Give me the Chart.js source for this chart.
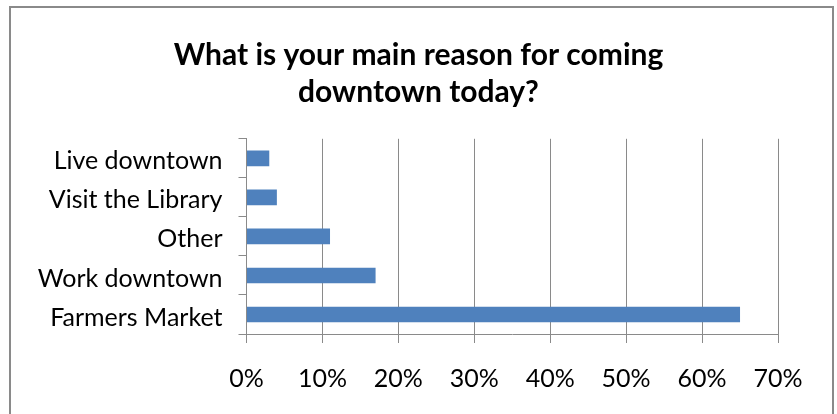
<!DOCTYPE html>
<html lang="en">
<head>
  <meta charset="UTF-8" />
  <title>Main reason for coming downtown</title>
  <script src="https://cdn.jsdelivr.net/npm/chart.js"></script>
  <style>
    html, body { margin: 0; padding: 0; background: #fff; }
    #frame {
      position: absolute; left: 9px; top: 6px;
      width: 821px; height: 430px;
      border: 2px solid #8a8a8a;
    }
    #chart { position: absolute; left: 0; top: 0; }
  </style>
</head>
<body>
  <div id="frame"></div>
  <canvas id="chart" width="837" height="414"></canvas>

  <script>
    // survey answers, top row first
    const reasons = ["Live downtown", "Visit the Library", "Other", "Work downtown", "Farmers Market"];
    const sharePct = [3, 4, 11, 17, 65];
    const xTicks = [0, 10, 20, 30, 40, 50, 60, 70];

    const grey = "#8a8a8a";
    const font = "Lato, 'Open Sans', sans-serif";

    new Chart(document.getElementById("chart"), {
      type: "bar",
      data: {
        labels: reasons,
        datasets: [{
          data: sharePct,
          backgroundColor: "#4F81BD",
          barPercentage: 0.4,
          categoryPercentage: 1
        }]
      },
      options: {
        indexAxis: "y",
        responsive: false,
        animation: false,
        plugins: {
          legend: { display: false },
          tooltip: { enabled: false },
          title: {
            display: true,
            text: ["What is your main reason for coming", "downtown today?"],
            color: "#000",
            font: { family: font, size: 30, weight: "bold", lineHeight: 1.23 },
            padding: { top: 37, bottom: 28 }
          }
        },
        scales: {
          x: {
            min: 0,
            max: 70,
            afterBuildTicks: (scale) => { scale.ticks = xTicks.map(v => ({ value: v })); },
            afterFit: (scale) => { scale.height = 80; },
            grid: { color: grey, lineWidth: 1, tickLength: 9, drawTicks: true },
            border: { color: grey, width: 1 },
            ticks: {
              color: "#000",
              padding: 21,
              font: { family: font, size: 25 },
              callback: (v) => v + "%"
            }
          },
          y: {
            afterFit: (scale) => { scale.width = 246.5; },
            grid: { drawOnChartArea: false, color: grey, tickLength: 8 },
            border: { color: grey, width: 1 },
            ticks: {
              color: "#000",
              padding: 16,
              labelOffset: 3,
              font: { family: font, size: 25 }
            }
          },
          // empty right-hand margin, so the title stays centred on the whole canvas
          spacer: {
            type: "linear",
            position: "right",
            afterFit: (scale) => { scale.width = 59; },
            grid: { display: false },
            border: { display: false },
            ticks: { display: false }
          }
        }
      }
    });
  </script>
</body>
</html>
